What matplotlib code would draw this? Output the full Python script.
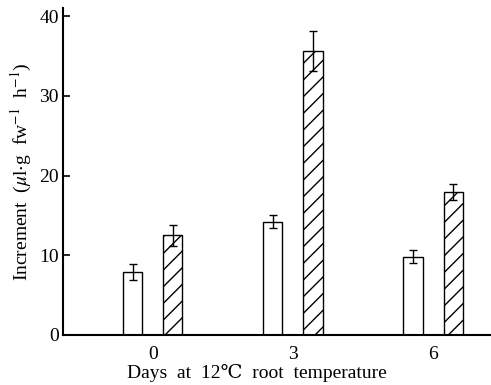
import numpy as np
from matplotlib import pyplot as plt

plt.rcParams["font.family"] = ["Liberation Serif", "DejaVu Serif", "Noto Sans CJK JP"]
plt.rcParams["mathtext.fontset"] = "stix"
plt.rcParams["hatch.linewidth"] = 1.0

# data
days = ["0", "3", "6"]
control = [7.9, 14.2, 9.8]
control_err = [1.0, 0.8, 0.8]
treated = [12.5, 35.6, 17.9]
treated_err = [1.3, 2.5, 1.0]

x = np.arange(len(days))
w = 0.136
off = 0.143

fig = plt.figure(figsize=(4.91, 3.85), dpi=100)
ax = fig.add_axes([0.128, 0.130, 0.870, 0.849])

ax.bar(x - off, control, w, color="white", edgecolor="black", linewidth=1.0)
ax.bar(x + off, treated, w, color="white", edgecolor="black", linewidth=1.0, hatch="//")
ax.errorbar(x - off, control, yerr=control_err, fmt="none", ecolor="black", elinewidth=1.0, capsize=3)
ax.errorbar(x + off, treated, yerr=treated_err, fmt="none", ecolor="black", elinewidth=1.0, capsize=3)

ax.set_xlim(-0.643, 2.407)
ax.set_ylim(0, 41)
ax.set_yticks([0, 10, 20, 30, 40])
ax.set_xticks(x)
ax.set_xticklabels(days)
ax.tick_params(axis="x", length=0, labelsize=14, pad=8)
ax.tick_params(axis="y", direction="in", length=5, width=1.2, labelsize=14, pad=3)

for s in ["top", "right"]:
    ax.spines[s].set_visible(False)
for s in ["left", "bottom"]:
    ax.spines[s].set_linewidth(1.5)

ax.set_xlabel("Days  at  12℃  root  temperature", fontsize=14)
ax.xaxis.set_label_coords(0.454, -0.088)
ax.set_ylabel(r"Increment  ($\mu$l$\cdot$g  fw$^{-1}$  h$^{-1}$)", fontsize=14, labelpad=4)

fig.savefig("out.png", dpi=100)
